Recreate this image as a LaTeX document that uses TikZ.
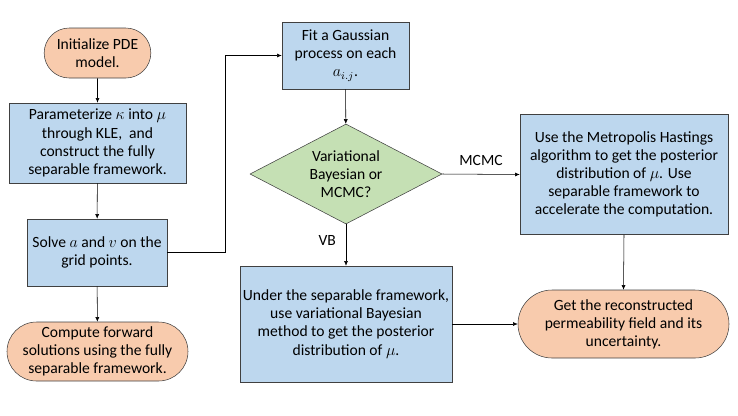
\documentclass[tikz,border=0pt]{standalone}
\usepackage{fontspec}
\setmainfont{Carlito}
\usetikzlibrary{shapes.geometric,shapes.misc,arrows.meta}

\definecolor{termfill}{HTML}{F8CBAD}
\definecolor{procfill}{HTML}{BDD7EE}
\definecolor{decfill}{HTML}{C5E0B4}
\definecolor{edge}{HTML}{404040}

\begin{document}
\begin{tikzpicture}
[
	x=0.75pt,y=-0.75pt,
	font=\fontsize{11.7}{13.6}\selectfont,
	term/.style={rounded rectangle,draw=edge,fill=termfill,thin,align=center,inner sep=0pt},
	proc/.style={rectangle,draw=edge,fill=procfill,thin,align=center,inner sep=0pt},
	decision/.style={diamond,draw=edge,fill=decfill,thin,align=center,inner sep=0pt,aspect=2},
	arr/.style={-{Latex[length=3.5pt,width=3pt]},thin,black}
]

	\useasboundingbox (0,0) rectangle (738,415);

	% left column
	\node[term,minimum width=80pt,minimum height=37.5pt] at (97.5,53) (init) {Initialize PDE\\model.};
	\node[proc,minimum width=132.75pt,minimum height=60pt] at (97.5,143) (param) {Parameterize $\kappa$ into $\mu$\\through KLE,~ and\\construct the fully\\separable framework.};
	\node[proc,minimum width=105pt,minimum height=50.25pt] at (97,252.5) (solve) {Solve $a$ and $v$ on the\\grid points.};
	\node[term,minimum width=135.75pt,minimum height=44.25pt] at (97.5,351.5) (forward) {Compute forward\\solutions using the fully\\separable framework.};

	% middle column
	\node[proc,minimum width=95.25pt,minimum height=50.25pt] at (345.5,55.5) (gp) {Fit a Gaussian\\process on each\\$a_{i.j}$.};
	\node[decision,minimum width=144pt,minimum height=75pt] at (346,174) (choice) {Variational\\Bayesian or\\MCMC?};
	\node[proc,minimum width=159pt,minimum height=87pt] at (346,324) (vb) {Under the separable framework,\\use variational Bayesian\\method to get the posterior\\distribution of $\mu$.};

	% right column
	\node[proc,minimum width=156pt,minimum height=90pt] at (624,174.5) (mh) {Use the Metropolis Hastings\\algorithm to get the posterior\\distribution of $\mu$. Use\\separable framework to\\accelerate the computation.};
	\node[term,minimum width=158.25pt,minimum height=51pt] at (623.5,324) (result) {Get the reconstructed\\permeability field and its\\uncertainty.};

	% connectors
	\draw[arr] (init) -- (param);
	\draw[arr] (param) -- (solve);
	\draw[arr] (solve) -- (forward);
	\draw[arr] (solve.east) -- (225.5,252.5) |- (gp.west);
	\draw[arr] (gp) -- (choice);
	\draw[arr] (choice.east) -- node[above=3pt] {MCMC} (mh.west);
	\draw[arr] (choice.south) -- node[left=4pt,pos=0.4] {VB} (vb.north);
	\draw[arr] (vb.east) -- (result.west);
	\draw[arr] (mh.south) -- (result.north);

\end{tikzpicture}
\end{document}
